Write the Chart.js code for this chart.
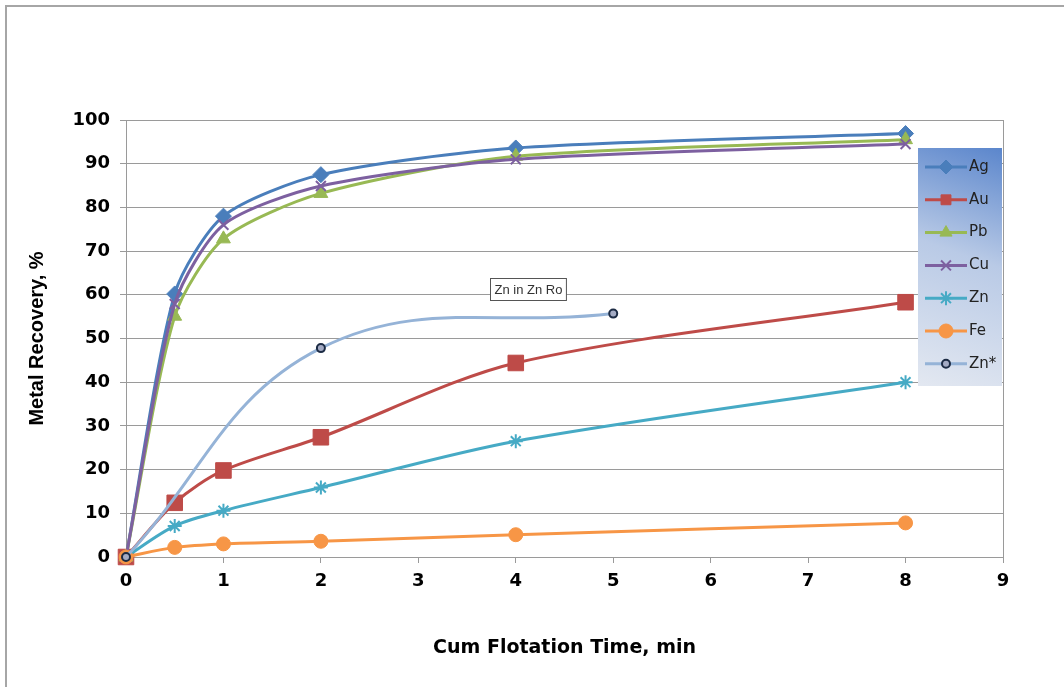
<!DOCTYPE html>
<html>
<head>
<meta charset="utf-8">
<script src="https://cdn.jsdelivr.net/npm/chart.js@4/dist/chart.umd.min.js"></script>
<style>
  html, body { margin: 0; padding: 0; background: #fff; }
  #wrap { position: relative; width: 1064px; height: 687px; }
  #frame { position: absolute; left: 5px; top: 5px; right: 0; bottom: 0;
           border-left: 2px solid #a6a6a6; border-top: 2px solid #a6a6a6; pointer-events: none; }
  canvas { display: block; }
</style>
</head>
<body>
<div id="wrap">
  <canvas id="c" width="1064" height="687"></canvas>
  <div id="frame"></div>
</div>
<script>
// ---- Data ----
const times = [0, 0.5, 1, 2, 4, 8];
const timesZnStar = [0, 2, 5];
const seriesNames = ['Ag', 'Au', 'Pb', 'Cu', 'Zn', 'Fe', 'Zn*'];
const ag = [0, 60.2, 78, 87.5, 93.6, 96.9];
const au = [0, 12.4, 19.8, 27.4, 44.4, 58.3];
const pb = [0, 55.1, 72.8, 83.2, 91.7, 95.5];
const cu = [0, 57.9, 76, 84.9, 91, 94.5];
const zn = [0, 7.1, 10.6, 15.9, 26.5, 40];
const fe = [0, 2.2, 3.0, 3.6, 5.1, 7.8];
const znStar = [0, 47.8, 55.7];
const xTicks = [0, 1, 2, 3, 4, 5, 6, 7, 8, 9];
const yTicks = [0, 10, 20, 30, 40, 50, 60, 70, 80, 90, 100];
const annotationText = 'Zn in Zn Ro';

function pts(xs, ys) { return xs.map((x, i) => ({ x: x, y: ys[i] })); }

const styles = [
  { color: '#4a7ebb', fill: '#4a7ebb', pointStyle: 'rectRot', radius: 8, bw: 1, tension: 0.25 },
  { color: '#be4b48', fill: '#be4b48', pointStyle: 'rect', radius: 11, bw: 1, tension: 0.3 },
  { color: '#98b954', fill: '#98b954', pointStyle: 'triangle', radius: 8, bw: 1, tension: 0.25 },
  { color: '#7d60a0', fill: '#7d60a0', pointStyle: 'crossRot', radius: 7, bw: 2, tension: 0.25 },
  { color: '#46aac5', fill: '#46aac5', pointStyle: 'star', radius: 7, bw: 2, tension: 0.3 },
  { color: '#f79646', fill: '#f79646', pointStyle: 'circle', radius: 7, bw: 1, tension: 0.3 },
  { color: '#95b3d7', fill: '#a4abc4', pointStyle: 'circle', radius: 4, bw: 2, pointBorder: '#1c2b44', tension: 0.4 }
];
const seriesData = [
  pts(times, ag), pts(times, au), pts(times, pb), pts(times, cu),
  pts(times, zn), pts(times, fe), pts(timesZnStar, znStar)
];

const datasets = seriesNames.map((name, i) => {
  const s = styles[i];
  return {
    label: name,
    data: seriesData[i],
    borderColor: s.color,
    backgroundColor: s.fill,
    borderWidth: 3,
    tension: s.tension,
    pointStyle: s.pointStyle,
    pointRadius: s.radius,
    pointBorderColor: s.pointBorder || s.color,
    pointBackgroundColor: s.fill,
    pointBorderWidth: s.bw,
    clip: false,
    order: 7 - i
  };
});

const frameLines = {
  id: 'frameLines',
  beforeDatasetsDraw(chart) {
    const { ctx, chartArea: a } = chart;
    ctx.save();
    ctx.strokeStyle = '#9a9a9a';
    ctx.lineWidth = 1;
    ctx.beginPath();
    ctx.moveTo(Math.round(a.right) + 0.5, a.top);
    ctx.lineTo(Math.round(a.right) + 0.5, a.bottom);
    ctx.stroke();
    ctx.restore();
  }
};

const customLegend = {
  id: 'customLegend',
  afterDraw(chart) {
    const { ctx } = chart;
    const x0 = 918, y0 = 148, w = 84, h = 238;
    ctx.save();
    const g = ctx.createLinearGradient(x0, y0 + h, x0 + w, y0);
    g.addColorStop(0, '#e3e8f1');
    g.addColorStop(0.55, '#b9cae6');
    g.addColorStop(1, '#5b86cc');
    ctx.fillStyle = g;
    ctx.fillRect(x0, y0, w, h);
    const rowY = (i) => 167 + i * 32.8;
    chart.data.datasets.forEach((ds, i) => {
      const y = rowY(i);
      ctx.strokeStyle = ds.borderColor;
      ctx.lineWidth = 3;
      ctx.beginPath();
      ctx.moveTo(925, y);
      ctx.lineTo(967, y);
      ctx.stroke();
      ctx.fillStyle = ds.pointBackgroundColor;
      ctx.strokeStyle = ds.pointBorderColor;
      ctx.lineWidth = ds.pointBorderWidth;
      Chart.helpers.drawPoint(ctx, {
        pointStyle: ds.pointStyle,
        radius: Math.min(ds.pointRadius, 7),
        borderWidth: ds.pointBorderWidth,
        rotation: 0
      }, 946, y);
      ctx.fillStyle = '#222';
      ctx.font = '15px "DejaVu Sans"';
      ctx.textBaseline = 'middle';
      ctx.textAlign = 'left';
      ctx.fillText(ds.label, 969, y);
    });
    // annotation
    const xs = chart.scales.x, ys = chart.scales.y;
    const cx = xs.getPixelForValue(4.13), cy = ys.getPixelForValue(61.3);
    ctx.font = '13px "Liberation Sans"';
    const tw = ctx.measureText(annotationText).width;
    const bw = tw + 8, bh = 22;
    ctx.fillStyle = '#fff';
    ctx.fillRect(Math.round(cx - bw / 2) + 0.5, Math.round(cy - bh / 2) + 0.5, bw, bh);
    ctx.strokeStyle = '#555';
    ctx.lineWidth = 1;
    ctx.strokeRect(Math.round(cx - bw / 2) + 0.5, Math.round(cy - bh / 2) + 0.5, bw, bh);
    ctx.fillStyle = '#333';
    ctx.textAlign = 'center';
    ctx.textBaseline = 'middle';
    ctx.fillText(annotationText, cx, cy + 1);
    ctx.restore();
  }
};

new Chart(document.getElementById('c'), {
  type: 'line',
  data: { datasets: datasets },
  options: {
    responsive: false,
    animation: false,
    events: [],
    layout: { padding: { top: 120, right: 61, left: 0, bottom: 0 } },
    plugins: { legend: { display: false }, tooltip: { enabled: false } },
    scales: {
      x: {
        type: 'linear',
        min: 0, max: 9,
        afterFit(s) { s.height = 130; },
        afterBuildTicks(s) { s.ticks = xTicks.map(v => ({ value: v })); },
        ticks: { color: '#000', font: { family: '"DejaVu Sans"', size: 18, weight: 'bold' }, padding: 8, maxRotation: 0 },
        grid: { drawOnChartArea: false, color: '#9a9a9a', tickLength: 6 },
        border: { color: '#9a9a9a', width: 1 },
        title: { display: true, text: 'Cum Flotation Time, min', color: '#000',
                 font: { family: '"DejaVu Sans"', size: 19, weight: 'bold' }, padding: { top: 0, bottom: 28 } }
      },
      y: {
        type: 'linear',
        min: 0, max: 100,
        afterFit(s) { s.width = 126; },
        afterBuildTicks(s) { s.ticks = yTicks.map(v => ({ value: v })); },
        ticks: { color: '#000', font: { family: '"DejaVu Sans"', size: 18, weight: 'bold' }, padding: 10 },
        grid: { color: '#9a9a9a', tickLength: 6 },
        border: { color: '#9a9a9a', width: 1 },
        title: { display: true, text: 'Metal Recovery, %', color: '#000',
                 font: { family: '"Liberation Sans"', size: 20, weight: 'bold' }, padding: { top: 25, bottom: 0 } }
      }
    }
  },
  plugins: [frameLines, customLegend]
});
</script>
</body>
</html>
